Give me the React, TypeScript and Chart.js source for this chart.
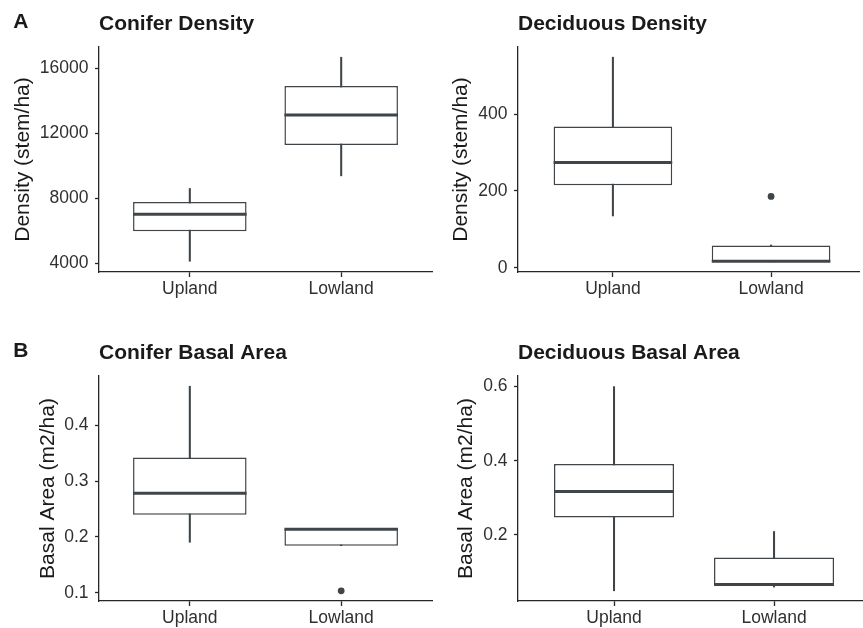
import React, { useEffect, useRef } from "react";
import { Chart, registerables } from "chart.js";

Chart.register(...registerables);
Chart.defaults.font.family = "'Liberation Sans', Arial, Helvetica, sans-serif";

// ---------- data ----------
const GROUPS = ["Upland", "Lowland"];
const GROUP_X = [1, 2];

// A: Conifer Density (stem/ha)
const CD_LO = [4140, 9390];
const CD_Q1 = [5990, 11280];
const CD_MED = [7030, 13130];
const CD_Q3 = [7790, 14910];
const CD_HI = [8615, 16680];
const CD_OUT: number[][] = [[], []];
const CD_TICKS = [4000, 8000, 12000, 16000];

// A: Deciduous Density (stem/ha)
const DD_LO = [135, 15.6];
const DD_Q1 = [215, 15.6];
const DD_MED = [274, 17.4];
const DD_Q3 = [368, 58.3];
const DD_HI = [548, 59.5];
const DD_OUT: number[][] = [[], [185.7]];
const DD_TICKS = [0, 200, 400];

// B: Conifer Basal Area (m2/ha)
const CB_LO = [0.1905, 0.1844];
const CB_Q1 = [0.24, 0.1844];
const CB_MED = [0.2784, 0.2137];
const CB_Q3 = [0.3425, 0.215];
const CB_HI = [0.47, 0.215];
const CB_OUT: number[][] = [[], [0.1036]];
const CB_TICKS = [0.1, 0.2, 0.3, 0.4];

// B: Deciduous Basal Area (m2/ha)
const DB_LO = [0.049, 0.059];
const DB_Q1 = [0.247, 0.0625];
const DB_MED = [0.317, 0.066];
const DB_Q3 = [0.391, 0.1385];
const DB_HI = [0.6, 0.209];
const DB_OUT: number[][] = [[], []];
const DB_TICKS = [0.2, 0.4, 0.6];

// ---------- styles ----------
const BOX_COLOR = "#3f4548";
const AXIS_COLOR = "#262626";
const TICK_TEXT = "#303030";
const TITLE_TEXT = "#1a1a1a";
const TICK_FONT = 17.5;
const TITLE_FONT = 21;

type Stats = { lo: number[]; q1: number[]; med: number[]; q3: number[]; hi: number[]; out: number[][] };

type PanelSpec = {
  left: number;
  top: number;
  width: number;
  height: number;
  padRight: number;
  yAxisW: number;
  xAxisH: number;
  yTitlePad: number;
  titleTop: number;
  titleBottom: number;
  xMax: number;
  yMin: number;
  yMax: number;
  ticks: number[];
  title: string;
  yTitle: string;
  tag?: string;
  tagY?: number;
  stats: Stats;
};

const PANELS: PanelSpec[] = [
  {
    left: 0, top: 0, width: 440, height: 310, padRight: 8, yAxisW: 99, xAxisH: 38, yTitlePad: 11,
    titleTop: 12, titleBottom: 9.8, xMax: 2.6, yMin: 3480, yMax: 17310, ticks: CD_TICKS,
    title: "Conifer Density", yTitle: "Density (stem/ha)", tag: "A", tagY: 22,
    stats: { lo: CD_LO, q1: CD_Q1, med: CD_MED, q3: CD_Q3, hi: CD_HI, out: CD_OUT },
  },
  {
    left: 440, top: 0, width: 423, height: 310, padRight: 0, yAxisW: 78, xAxisH: 38, yTitlePad: 9.1,
    titleTop: 12, titleBottom: 9.8, xMax: 2.556, yMin: -10.8, yMax: 574.5, ticks: DD_TICKS,
    title: "Deciduous Density", yTitle: "Density (stem/ha)",
    stats: { lo: DD_LO, q1: DD_Q1, med: DD_MED, q3: DD_Q3, hi: DD_HI, out: DD_OUT },
  },
  {
    left: 0, top: 310, width: 440, height: 318, padRight: 8, yAxisW: 99, xAxisH: 27, yTitlePad: 35.7,
    titleTop: 30.7, titleBottom: 10.1, xMax: 2.6, yMin: 0.0853, yMax: 0.4883, ticks: CB_TICKS,
    title: "Conifer Basal Area", yTitle: "Basal Area (m2/ha)", tag: "B", tagY: 41.7,
    stats: { lo: CB_LO, q1: CB_Q1, med: CB_MED, q3: CB_Q3, hi: CB_HI, out: CB_OUT },
  },
  {
    left: 440, top: 310, width: 423, height: 318, padRight: 0, yAxisW: 78, xAxisH: 27, yTitlePad: 13.4,
    titleTop: 30.7, titleBottom: 10.1, xMax: 2.556, yMin: 0.0214, yMax: 0.6286, ticks: DB_TICKS,
    title: "Deciduous Basal Area", yTitle: "Basal Area (m2/ha)",
    stats: { lo: DB_LO, q1: DB_Q1, med: DB_MED, q3: DB_Q3, hi: DB_HI, out: DB_OUT },
  },
];

const tagPlugin = {
  id: "panelTag",
  afterDraw(chart: any, _args: any, opts: any) {
    if (!opts || !opts.text) return;
    const ctx = chart.ctx;
    ctx.save();
    ctx.font = `bold ${TITLE_FONT}px 'Liberation Sans', Arial, sans-serif`;
    ctx.fillStyle = TITLE_TEXT;
    ctx.textBaseline = "middle";
    ctx.textAlign = "left";
    ctx.fillText(opts.text, 13.3, opts.y);
    ctx.restore();
  },
};

function BoxPanel({ p }: { p: PanelSpec }) {
  const ref = useRef<HTMLCanvasElement>(null);

  useEffect(() => {
    const s = p.stats;
    const whiskerData = GROUP_X.map((x, i) => ({ x, y: [s.lo[i], s.hi[i]] }));
    const boxData = GROUP_X.map((x, i) => ({ x, y: [s.q1[i], s.q3[i]] }));
    const medData = GROUP_X.map((x, i) => ({ x, y: s.med[i] }));
    const outData: { x: number; y: number }[] = [];
    GROUP_X.forEach((x, i) => s.out[i].forEach((v) => outData.push({ x, y: v })));

    const halfBox = (ctx: any) => {
      const xs = ctx.chart.scales.x;
      if (!xs) return 50;
      return xs.getPixelForValue(1.375) - xs.getPixelForValue(1);
    };

    const chart = new Chart(ref.current as HTMLCanvasElement, {
      type: "bar",
      data: {
        datasets: [
          {
            type: "bar",
            label: "whisker",
            data: whiskerData as any,
            backgroundColor: BOX_COLOR,
            borderWidth: 0,
            barThickness: 1.4,
            grouped: false,
            order: 4,
          } as any,
          {
            type: "bar",
            label: "box",
            data: boxData as any,
            backgroundColor: "#ffffff",
            borderColor: BOX_COLOR,
            borderWidth: 1.5,
            borderSkipped: false,
            categoryPercentage: 1,
            barPercentage: 0.75,
            grouped: false,
            order: 3,
          } as any,
          {
            type: "scatter",
            label: "median",
            data: medData as any,
            pointStyle: "line",
            pointRadius: halfBox,
            pointHoverRadius: halfBox,
            pointBorderWidth: 3,
            pointBorderColor: BOX_COLOR,
            pointBackgroundColor: BOX_COLOR,
            order: 2,
          } as any,
          {
            type: "scatter",
            label: "outlier",
            data: outData as any,
            pointStyle: "circle",
            pointRadius: 3.4,
            pointBorderWidth: 0,
            pointBackgroundColor: BOX_COLOR,
            order: 1,
          } as any,
        ],
      },
      options: {
        animation: false,
        responsive: false,
        devicePixelRatio: 1,
        layout: { padding: { left: 0, right: p.padRight, top: 0, bottom: 0 } },
        plugins: {
          legend: { display: false },
          tooltip: { enabled: false },
          title: {
            display: true,
            text: p.title,
            align: "start",
            fullSize: false,
            color: TITLE_TEXT,
            font: { size: TITLE_FONT, weight: "bold" },
            padding: { top: p.titleTop, bottom: p.titleBottom },
          },
          panelTag: { text: p.tag || "", y: p.tagY || 0 },
        } as any,
        scales: {
          x: {
            type: "linear",
            min: 0.4,
            max: p.xMax,
            bounds: "data",
            offset: false,
            afterBuildTicks: (sc: any) => {
              sc.ticks = GROUP_X.map((v) => ({ value: v }));
            },
            afterFit: (sc: any) => {
              sc.height = p.xAxisH;
            },
            ticks: {
              autoSkip: false,
              maxRotation: 0,
              padding: 2,
              color: TICK_TEXT,
              font: { size: TICK_FONT },
              callback: (v: any) => GROUPS[GROUP_X.indexOf(Number(v))] ?? "",
            },
            grid: {
              display: true,
              offset: false,
              drawOnChartArea: false,
              drawTicks: true,
              tickLength: 5,
              tickColor: AXIS_COLOR,
              tickWidth: 1.3,
            },
            border: { display: true, color: AXIS_COLOR, width: 1.3 },
          },
          y: {
            type: "linear",
            min: p.yMin,
            max: p.yMax,
            bounds: "data",
            afterBuildTicks: (sc: any) => {
              sc.ticks = p.ticks.map((v) => ({ value: v }));
            },
            afterFit: (sc: any) => {
              sc.width = p.yAxisW;
            },
            ticks: {
              padding: 6.5,
              color: TICK_TEXT,
              font: { size: TICK_FONT },
              callback: (v: any) => String(v),
            },
            grid: {
              display: true,
              drawOnChartArea: false,
              drawTicks: true,
              tickLength: 4,
              tickColor: AXIS_COLOR,
              tickWidth: 1.3,
            },
            border: { display: true, color: AXIS_COLOR, width: 1.3 },
            title: {
              display: true,
              text: p.yTitle,
              color: TITLE_TEXT,
              font: { size: TITLE_FONT },
              padding: { top: p.yTitlePad, bottom: 0 },
            },
          },
        },
      } as any,
      plugins: [tagPlugin],
    });
    return () => chart.destroy();
  }, [p]);

  return (
    <div style={{ position: "absolute", left: p.left, top: p.top, width: p.width, height: p.height }}>
      <canvas
        ref={ref}
        width={p.width}
        height={p.height}
        style={{ width: p.width, height: p.height, display: "block" }}
      />
    </div>
  );
}

export default function App() {
  return (
    <div
      style={{
        position: "absolute",
        left: 0,
        top: 0,
        width: 863,
        height: 628,
        overflow: "hidden",
        background: "#ffffff",
      }}
    >
      {PANELS.map((p, i) => (
        <BoxPanel key={i} p={p} />
      ))}
    </div>
  );
}
